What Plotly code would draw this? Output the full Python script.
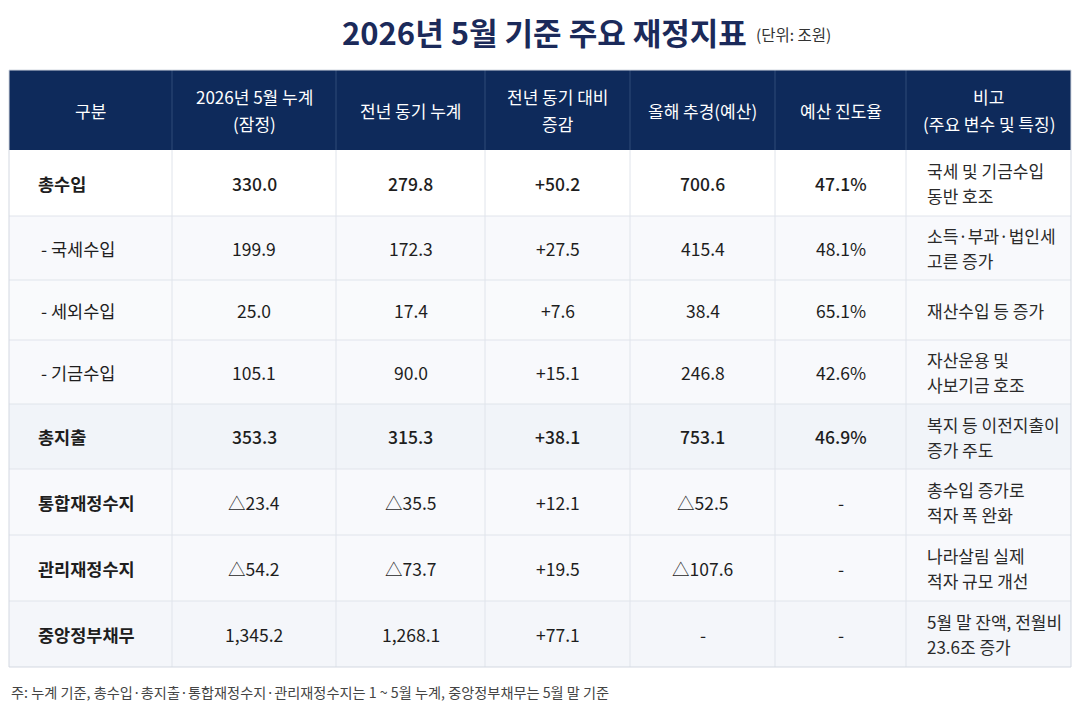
import plotly.graph_objects as go

# table content
headers = [["구분"], ["2026년 5월 누계", "(잠정)"], ["전년 동기 누계"],
           ["전년 동기 대비", "증감"], ["올해 추경(예산)"], ["예산 진도율"],
           ["비고", "(주요 변수 및 특징)"]]
categories = ["총수입", "- 국세수입", "- 세외수입", "- 기금수입",
              "총지출", "통합재정수지", "관리재정수지", "중앙정부채무"]
cum_2026 = ["330.0", "199.9", "25.0", "105.1", "353.3", "△23.4", "△54.2", "1,345.2"]
cum_prev = ["279.8", "172.3", "17.4", "90.0", "315.3", "△35.5", "△73.7", "1,268.1"]
yoy_change = ["+50.2", "+27.5", "+7.6", "+15.1", "+38.1", "+12.1", "+19.5", "+77.1"]
budget = ["700.6", "415.4", "38.4", "246.8", "753.1", "△52.5", "△107.6", "-"]
progress = ["47.1%", "48.1%", "65.1%", "42.6%", "46.9%", "-", "-", "-"]
notes = [["국세 및 기금수입", "동반 호조"],
         ["소득·부과·법인세", "고른 증가"],
         ["재산수입 등 증가"],
         ["자산운용 및", "사보기금 호조"],
         ["복지 등 이전지출이", "증가 주도"],
         ["총수입 증가로", "적자 폭 완화"],
         ["나라살림 실제", "적자 규모 개선"],
         ["5월 말 잔액, 전월비", "23.6조 증가"]]
main_rows = ["총수입", "총지출", "통합재정수지", "관리재정수지", "중앙정부채무"]
bold_values = ["총수입", "총지출"]

# layout geometry (pixels)
W, H = 1079, 708
col_edges = [9, 172, 336, 485, 630, 775, 906, 1071]
row_edges = [70, 150, 216, 280, 340, 404, 469, 535, 601, 667]
row_fills = ["#ffffff", "#f8f9fc", "#f9fafc", "#f8f9fc",
             "#f1f4f9", "#f8f9fc", "#f8f9fc", "#f4f6fa"]
FONT = "Noto Sans CJK KR"
NAVY = "#0e2a5b"

fig = go.Figure()
shapes = []
annotations = []

# header band
shapes.append(dict(type="rect", xref="x", yref="y", x0=col_edges[0], x1=col_edges[-1],
                   y0=row_edges[0], y1=row_edges[1], fillcolor=NAVY, line=dict(width=0), layer="below"))
for i, lines in enumerate(headers):
    cx = (col_edges[i] + col_edges[i + 1]) / 2
    cy = (row_edges[0] + row_edges[1]) / 2
    n = len(lines)
    for k, t in enumerate(lines):
        y = cy + (k - (n - 1) / 2) * 27
        annotations.append(dict(x=cx, y=y, xref="x", yref="y", text=t, showarrow=False,
                                xanchor="center", yanchor="middle",
                                font=dict(family=FONT, size=17, color="white")))

# body rows
columns = [cum_2026, cum_prev, yoy_change, budget, progress]
for r, cat in enumerate(categories):
    y0, y1 = row_edges[r + 1], row_edges[r + 2]
    cy = (y0 + y1) / 2
    shapes.append(dict(type="rect", xref="x", yref="y", x0=col_edges[0], x1=col_edges[-1],
                       y0=y0, y1=y1, fillcolor=row_fills[r], line=dict(width=0), layer="below"))
    is_main = cat in main_rows
    annotations.append(dict(x=36 if is_main else 39, y=cy, xref="x", yref="y",
                            text=f"<b>{cat}</b>" if is_main else cat, showarrow=False,
                            xanchor="left", yanchor="middle",
                            font=dict(family=FONT, size=17.5, color="#1e1e1e")))
    for c, vals in enumerate(columns):
        cx = (col_edges[c + 1] + col_edges[c + 2]) / 2
        annotations.append(dict(x=cx, y=cy, xref="x", yref="y", text=vals[r], showarrow=False,
                                xanchor="center", yanchor="middle",
                                font=dict(family=FONT, size=17.5, color="#1e1e1e",
                                          weight=500 if cat in bold_values else 400)))
    n = len(notes[r])
    for k, t in enumerate(notes[r]):
        annotations.append(dict(x=col_edges[6] + 19, y=cy + (k - (n - 1) / 2) * 25,
                                xref="x", yref="y", text=t, showarrow=False,
                                xanchor="left", yanchor="middle",
                                font=dict(family=FONT, size=17, color="#2a2a2a")))

# grid lines
for y in row_edges[2:-1]:
    shapes.append(dict(type="line", xref="x", yref="y", x0=col_edges[0], x1=col_edges[-1],
                       y0=y, y1=y, line=dict(color="#e0e4eb", width=1)))
for x in col_edges[1:-1]:
    shapes.append(dict(type="line", xref="x", yref="y", x0=x, x1=x,
                       y0=row_edges[0], y1=row_edges[1], line=dict(color="#2f4a78", width=1)))
    shapes.append(dict(type="line", xref="x", yref="y", x0=x, x1=x,
                       y0=row_edges[1], y1=row_edges[-1], line=dict(color="#e0e4eb", width=1)))
shapes.append(dict(type="rect", xref="x", yref="y", x0=col_edges[0], x1=col_edges[-1],
                   y0=row_edges[0], y1=row_edges[-1], line=dict(color="#d3d8e1", width=1)))

# title, unit and footnote
annotations.append(dict(x=544, y=31, xref="x", yref="y", text="<b>2026년 5월 기준 주요 재정지표</b>",
                        showarrow=False, xanchor="center", yanchor="middle",
                        font=dict(family=FONT, size=31, color="#1b2a5a")))
annotations.append(dict(x=754, y=34, xref="x", yref="y", text="(단위: 조원)",
                        showarrow=False, xanchor="left", yanchor="middle",
                        font=dict(family=FONT, size=15.5, color="#333333")))
annotations.append(dict(x=9, y=692, xref="x", yref="y",
                        text="주: 누계 기준, 총수입·총지출·통합재정수지·관리재정수지는 1 ~ 5월 누계, 중앙정부채무는 5월 말 기준",
                        showarrow=False, xanchor="left", yanchor="middle",
                        font=dict(family=FONT, size=14.2, color="#444444")))

fig.update_layout(
    width=W, height=H,
    margin=dict(l=0, r=0, t=0, b=0),
    paper_bgcolor="white", plot_bgcolor="white",
    xaxis=dict(range=[0, W], visible=False, fixedrange=True),
    yaxis=dict(range=[H, 0], visible=False, fixedrange=True),
    shapes=shapes, annotations=annotations, showlegend=False,
)
fig.write_html("out.html", config={"displayModeBar": False},
               post_script="document.body.style.margin='0'; document.body.style.overflow='hidden';")
